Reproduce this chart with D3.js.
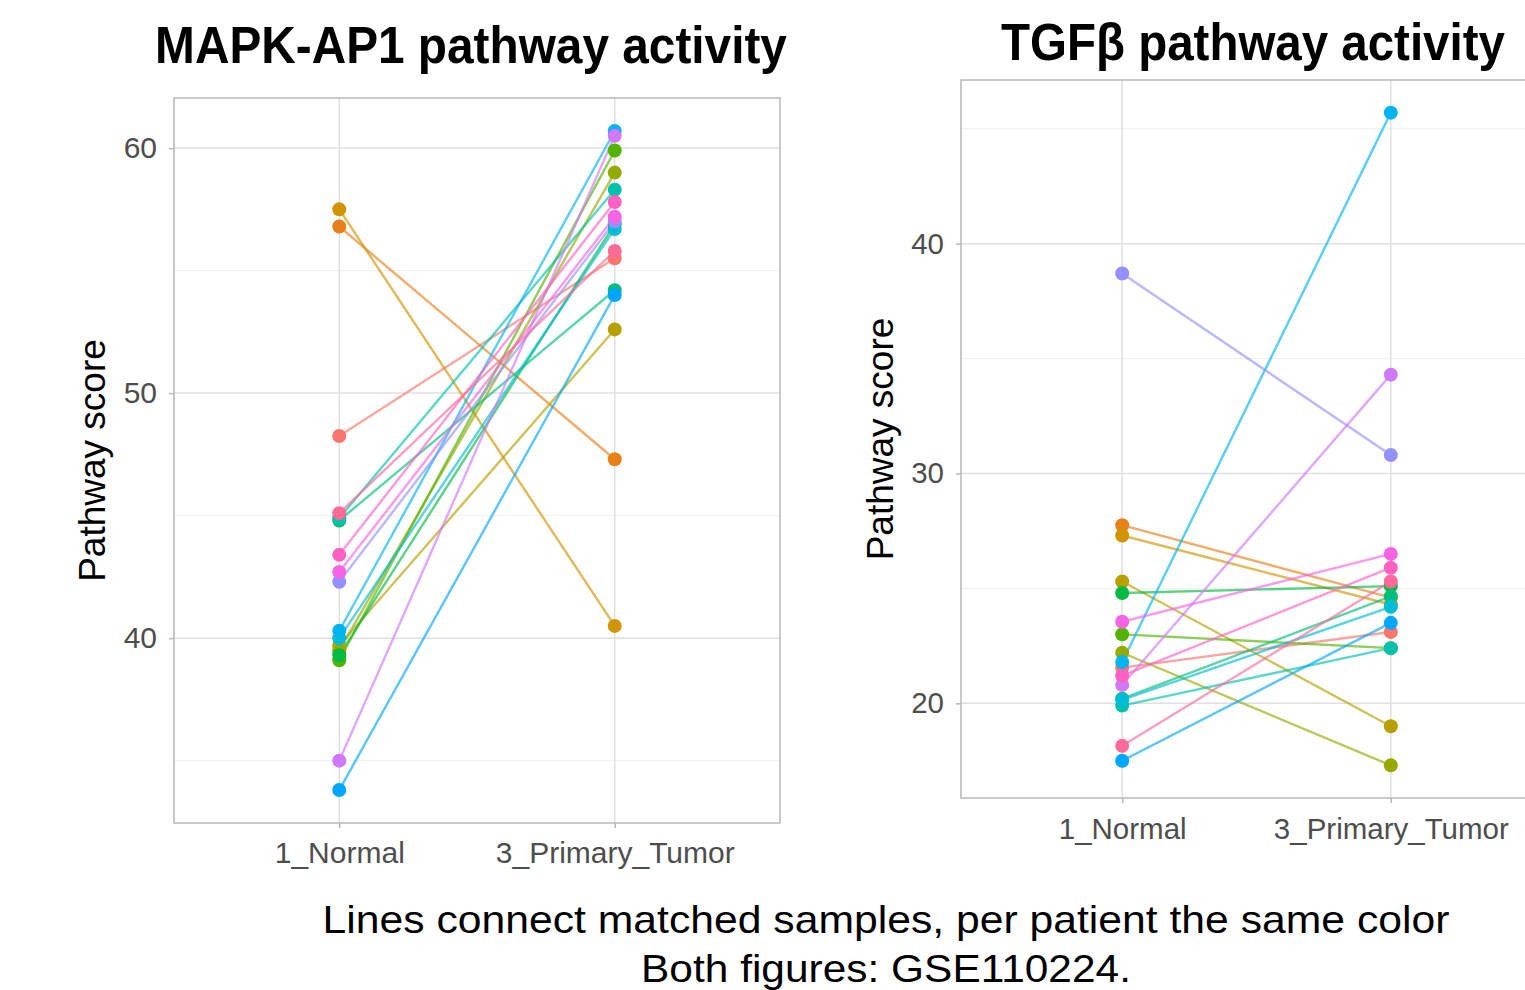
<!DOCTYPE html>
<html>
<head>
<meta charset="utf-8">
<script src="https://cdn.jsdelivr.net/npm/d3@7"></script>
<style>
    body { margin: 0; background: #fff; }
    svg { display: block; font-family: "Liberation Sans", Arial, sans-serif; }
</style>
</head>
<body>
<div class="canvas"></div>
<script>
// matched samples, one entry per patient (same order in every array)
const categories = ["1_Normal", "3_Primary_Tumor"];
const patients = ["P01", "P02", "P03", "P04", "P05", "P06", "P07", "P08", "P09",
    "P10", "P11", "P12", "P13", "P14", "P15", "P16", "P17"];

const mapkNormal = [48.25, 56.8, 57.5, 39.7, 39.5, 39.1, 39.3, 44.8, 44.9, 40.0, 40.3, 33.8, 42.3, 35.0, 42.7, 43.4, 45.1];
const mapkTumor = [55.5, 47.3, 40.5, 52.6, 59.0, 59.9, 56.9, 54.2, 58.3, 56.7, 60.7, 54.0, 57.0, 60.5, 57.2, 57.8, 55.8];

const tgfbNormal = [21.55, 27.75, 27.3, 25.3, 22.2, 23.0, 24.8, 20.2, 19.9, 20.15, 21.8, 17.5, 38.7, 20.8, 23.55, 21.2, 18.15];
const tgfbTumor = [23.1, 24.6, 24.3, 19.0, 17.3, 22.4, 25.1, 24.65, 22.4, 24.2, 45.7, 23.5, 30.8, 34.3, 26.5, 25.9, 25.3];

const mapkTicks = [40, 50, 60];
const mapkMinor = [35, 45, 55];
const tgfbTicks = [20, 30, 40];
const tgfbMinor = [25, 35, 45];

// ggplot-like hue palette
const palette = ["#F8766D", "#E8801A", "#D09400", "#B7A000", "#96A900", "#53B400",
    "#00BA42", "#00BF7D", "#00C1AB", "#00BCD6", "#00B4F0", "#00A6FF",
    "#9590FF", "#D078FA", "#F564E3", "#FF61C3", "#FF6A98"];

const color = d3.scaleOrdinal().domain(patients).range(palette);

const svg = d3.select(".canvas")
    .append("svg")
    .attr("width", 1525)
    .attr("height", 990);

// squeeze a text horizontally so it fits a given width (narrow bold look)
function fitText(sel, cx, w) {
    const natural = sel.node().getComputedTextLength();
    const sx = w / natural;
    sel.attr("x", 0)
        .attr("text-anchor", "middle")
        .attr("transform", `translate(${cx},${sel.attr("y")}) scale(${sx},1)`)
        .attr("y", 0);
}

function drawPanel(opt) {
    const { normal, tumor, ticks, minor, box, title, labelSize } = opt;

    const all = normal.concat(tumor);
    const ext = d3.extent(all);
    const pad = (ext[1] - ext[0]) * 0.05;

    const x = d3.scalePoint().domain(categories).range([box.left, box.right]).padding(0.6);
    const y = d3.scaleLinear().domain([ext[0] - pad, ext[1] + pad]).range([box.bottom, box.top]);

    const g = svg.append("g");

    // grid
    g.selectAll(".minor")
        .data(minor)
        .enter()
        .append("line")
        .attr("x1", box.left).attr("x2", box.right)
        .attr("y1", (d) => y(d)).attr("y2", (d) => y(d))
        .attr("stroke", "#F0F0F0")
        .attr("stroke-width", 1);

    g.selectAll(".major")
        .data(ticks)
        .enter()
        .append("line")
        .attr("x1", box.left).attr("x2", box.right)
        .attr("y1", (d) => y(d)).attr("y2", (d) => y(d))
        .attr("stroke", "#E0E0E0")
        .attr("stroke-width", 1.5);

    g.selectAll(".vgrid")
        .data(categories)
        .enter()
        .append("line")
        .attr("x1", (d) => x(d)).attr("x2", (d) => x(d))
        .attr("y1", box.top).attr("y2", box.bottom)
        .attr("stroke", "#E0E0E0")
        .attr("stroke-width", 1.5);

    // matched lines
    const pairs = patients.map((p, i) => ({ id: p, a: normal[i], b: tumor[i] }));

    g.selectAll(".pair")
        .data(pairs)
        .enter()
        .append("line")
        .attr("x1", x(categories[0]))
        .attr("x2", x(categories[1]))
        .attr("y1", (d) => y(d.a))
        .attr("y2", (d) => y(d.b))
        .attr("stroke", (d) => color(d.id))
        .attr("stroke-opacity", 0.65)
        .attr("stroke-width", 2.4);

    const pts = [];
    pairs.forEach((d) => {
        pts.push({ id: d.id, cat: categories[0], v: d.a });
        pts.push({ id: d.id, cat: categories[1], v: d.b });
    });

    g.selectAll("circle")
        .data(pts)
        .enter()
        .append("circle")
        .attr("cx", (d) => x(d.cat))
        .attr("cy", (d) => y(d.v))
        .attr("r", 7)
        .attr("fill", (d) => color(d.id));

    // border
    g.append("rect")
        .attr("x", box.left).attr("y", box.top)
        .attr("width", box.right - box.left)
        .attr("height", box.bottom - box.top)
        .attr("fill", "none")
        .attr("stroke", "#B8B8B8")
        .attr("stroke-width", 1.5);

    // axes
    const yAxis = g.append("g")
        .attr("transform", `translate(${box.left},0)`)
        .call(d3.axisLeft(y).tickValues(ticks).tickSize(5).tickPadding(12));
    const xAxis = g.append("g")
        .attr("transform", `translate(0,${box.bottom})`)
        .call(d3.axisBottom(x).tickSize(5).tickPadding(box.xPad));

    [yAxis, xAxis].forEach((ax) => {
        ax.select(".domain").remove();
        ax.selectAll("line").attr("stroke", "#B8B8B8").attr("stroke-width", 1.5);
        ax.selectAll("text")
            .attr("fill", "#4D4D4D")
            .style("font-size", labelSize + "px")
            .style("font-family", "'Liberation Sans', Arial, sans-serif");
    });

    // axis title
    svg.append("text")
        .attr("transform", `translate(${box.yTitleX},${(box.top + box.bottom) / 2}) rotate(-90)`)
        .attr("text-anchor", "middle")
        .style("font-size", "37px")
        .attr("fill", "#000")
        .text("Pathway score");

    // panel title
    const t = svg.append("text")
        .attr("y", title.y)
        .style("font-family", "'Liberation Sans Narrow', 'Arial Narrow', 'Liberation Sans', Arial, sans-serif")
        .style("font-weight", "bold")
        .style("font-size", "52px")
        .text(title.text);
    fitText(t, title.x, title.w);
}

drawPanel({
    normal: mapkNormal,
    tumor: mapkTumor,
    ticks: mapkTicks,
    minor: mapkMinor,
    labelSize: 30,
    box: { left: 174, right: 780, top: 98, bottom: 823, xPad: 14, yTitleX: 105 },
    title: { text: "MAPK-AP1 pathway activity", x: 471, y: 63, w: 632 },
});

drawPanel({
    normal: tgfbNormal,
    tumor: tgfbTumor,
    ticks: tgfbTicks,
    minor: tgfbMinor,
    labelSize: 29.5,
    box: { left: 961, right: 1552, top: 80, bottom: 798, xPad: 15, yTitleX: 893 },
    title: { text: "TGFβ pathway activity", x: 1253, y: 60, w: 504 },
});

// footer note
const note1 = svg.append("text")
    .attr("y", 933)
    .style("font-size", "39px")
    .text("Lines connect matched samples, per patient the same color");
fitText(note1, 886, 1127);

const note2 = svg.append("text")
    .attr("y", 982)
    .style("font-size", "39px")
    .text("Both figures: GSE110224.");
fitText(note2, 886, 490);
</script>
</body>
</html>
